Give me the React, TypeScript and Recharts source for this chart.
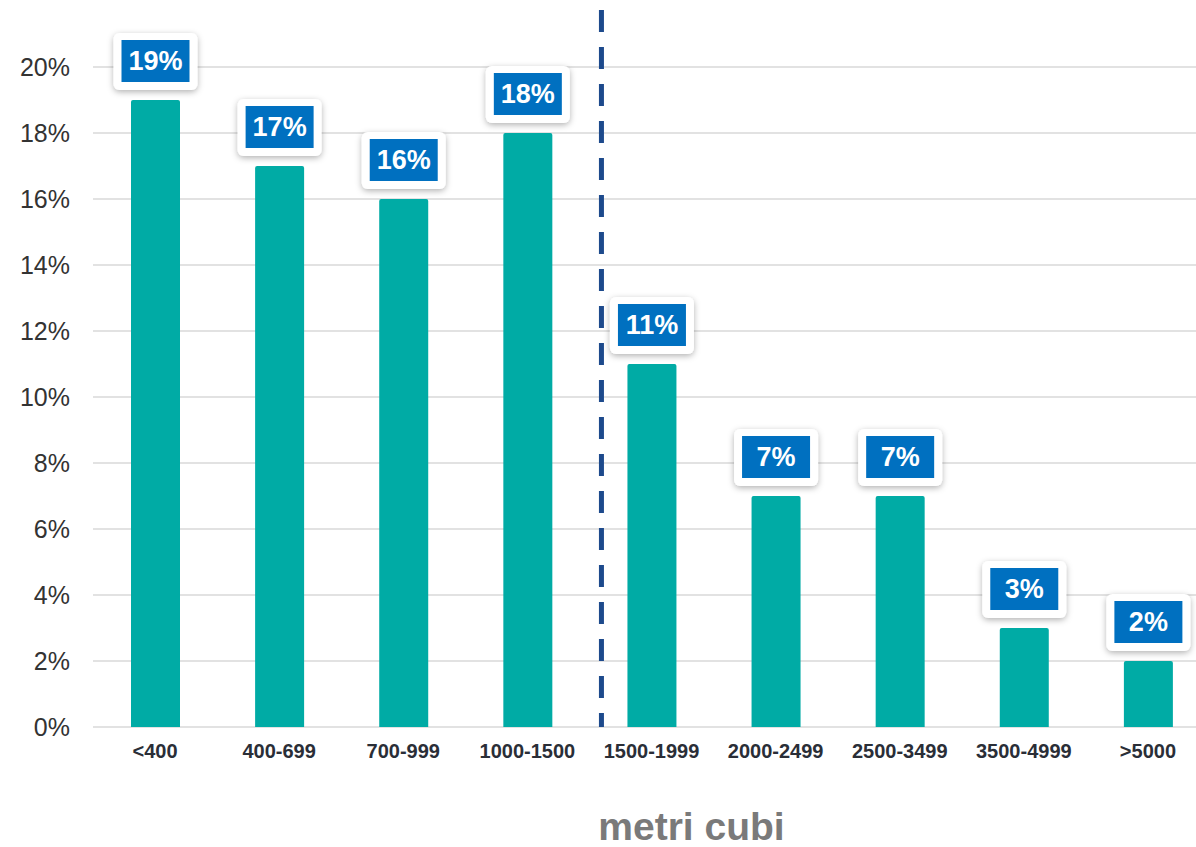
import React from 'react';
import { BarChart, Bar, XAxis, YAxis, CartesianGrid, LabelList, ReferenceLine, Label } from 'recharts';

const categories = ['<400', '400-699', '700-999', '1000-1500', '1500-1999', '2000-2499', '2500-3499', '3500-4999', '>5000'];
const shares = [19, 17, 16, 18, 11, 7, 7, 3, 2];
const yTicks = [0, 2, 4, 6, 8, 10, 12, 14, 16, 18, 20];
// dashed separator sits just right of the boundary after this category
const dividerAfter = '1000-1500';

const data = categories.map((name, i) => ({ name, val: shares[i] }));

const FONT = '"Liberation Sans", Arial, Helvetica, sans-serif';
const TOP = 67;

const ValueBadge = (props: any) => {
  const { x, y, width, value } = props;
  const cx = x + width / 2;
  const bottom = y - 10;
  const w = 84;
  const h = 57;
  return (
    <g>
      <rect x={cx - w / 2} y={bottom - h} width={w} height={h} rx={6} fill="#fff" filter="url(#badgeShadow)" />
      <rect x={cx - 34} y={bottom - h + 7} width={68} height={42} fill="#0070c0" />
      <text
        x={cx}
        y={bottom - h + 28}
        textAnchor="middle"
        dominantBaseline="central"
        fill="#fff"
        fontSize={27}
        fontWeight="bold"
        fontFamily={FONT}
      >
        {value}%
      </text>
    </g>
  );
};

// the separator runs from near the top of the image down to the baseline
const DividerLine = (props: any) => {
  const { x1, y1, y2 } = props;
  const x = x1 + 12;
  const top = Math.min(y1, y2) - TOP + 10;
  const bottom = Math.max(y1, y2);
  return <line x1={x} x2={x} y1={top} y2={bottom} stroke="#1d4a8c" strokeWidth={5} strokeDasharray="22 15" />;
};

const App: React.FC = () => {
  return (
    <div style={{ position: 'absolute', left: 0, top: 0, width: 1196, height: 847, overflow: 'hidden', background: '#fff' }}>
      <BarChart
        width={1210}
        height={847}
        data={data}
        margin={{ top: TOP, right: 0, left: 0, bottom: 0 }}
        style={{ fontFamily: FONT }}
      >
        <defs>
          <filter id="badgeShadow" x="-20%" y="-20%" width="140%" height="150%">
            <feDropShadow dx="0" dy="2" stdDeviation="3" floodColor="#000" floodOpacity="0.3" />
          </filter>
        </defs>
        <CartesianGrid vertical={false} stroke="#d9d9d9" strokeWidth={1.5} />
        <XAxis
          dataKey="name"
          height={120}
          axisLine={false}
          tickLine={false}
          tickMargin={11}
          interval={0}
          tick={{ fill: '#2a2e37', fontSize: 20, fontWeight: 'bold' }}
        >
          <Label
            value="metri cubi"
            position="insideBottom"
            offset={7}
            dx={40}
            style={{ fill: '#7a7a7a', fontSize: 39, fontWeight: 'bold' }}
          />
        </XAxis>
        <YAxis
          width={93}
          domain={[0, 20]}
          ticks={yTicks}
          axisLine={false}
          tickLine={false}
          tickMargin={17}
          tickFormatter={(v: number) => `${v}%`}
          tick={{ fill: '#333', fontSize: 25 }}
        />
        <ReferenceLine x={dividerAfter} position="end" shape={DividerLine} />
        <Bar dataKey="val" fill="#00aba5" barSize={49} radius={[2, 2, 0, 0]} isAnimationActive={false}>
          <LabelList dataKey="val" content={ValueBadge} />
        </Bar>
      </BarChart>
    </div>
  );
};

export default App;
